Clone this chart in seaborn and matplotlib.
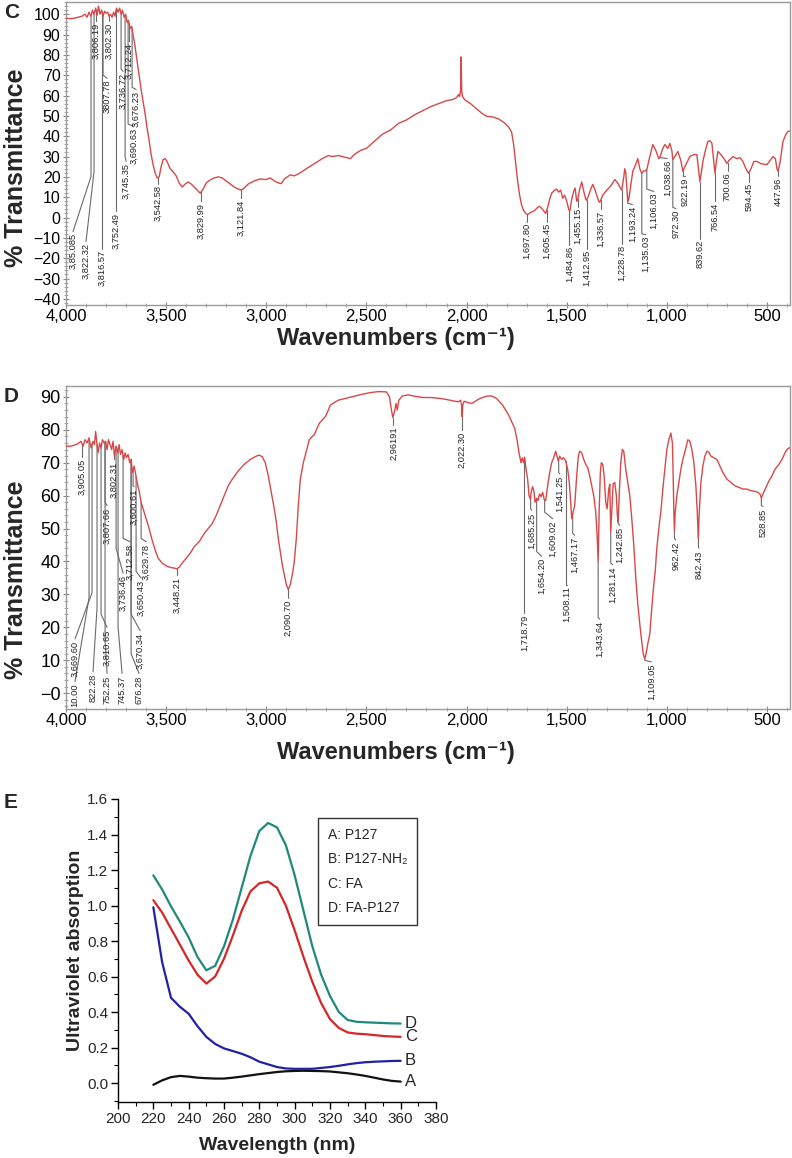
import matplotlib
matplotlib.use('Agg')
import matplotlib.pyplot as plt
from matplotlib import font_manager
from matplotlib.ticker import MultipleLocator
from matplotlib.lines import Line2D
import seaborn as sns
import numpy as np
import pandas as pd

# ---------------- panel C : FTIR spectrum ----------------
c_wavenumber = [4000, 3980, 3960, 3940, 3920, 3905, 3895, 3885, 3875, 3868, 3860, 3852, 3845, 3838, 3830,
                3822, 3815, 3808, 3800, 3792, 3785, 3778, 3770, 3762, 3755, 3748, 3740, 3732, 3725, 3718,
                3710, 3702, 3695, 3688, 3680, 3672, 3665, 3655, 3645, 3635, 3625, 3615, 3605, 3595, 3585,
                3575, 3565, 3555, 3545, 3535, 3525, 3515, 3505, 3495, 3480, 3465, 3450, 3435, 3420, 3405,
                3390, 3375, 3360, 3345, 3330, 3315, 3300, 3280, 3260, 3240, 3220, 3200, 3180, 3160, 3140,
                3125, 3110, 3090, 3060, 3030, 3000, 2980, 2960, 2940, 2925, 2910, 2880, 2860, 2835, 2800,
                2760, 2720, 2690, 2670, 2640, 2600, 2580, 2560, 2530, 2500, 2460, 2420, 2380, 2340, 2300,
                2260, 2220, 2180, 2140, 2100, 2070, 2050, 2040, 2035, 2030, 2027, 2024, 2020, 2010, 1980,
                1950, 1920, 1900, 1870, 1840, 1810, 1790, 1775, 1765, 1755, 1745, 1735, 1725, 1715, 1705,
                1695, 1680, 1660, 1645, 1635, 1620, 1605, 1595, 1585, 1575, 1560, 1550, 1540, 1530, 1520,
                1510, 1500, 1490, 1484, 1475, 1465, 1458, 1450, 1445, 1435, 1425, 1415, 1405, 1400, 1390,
                1380, 1370, 1360, 1350, 1340, 1335, 1320, 1300, 1280, 1260, 1245, 1235, 1225, 1215, 1210,
                1205, 1195, 1190, 1180, 1170, 1160, 1145, 1135, 1125, 1115, 1105, 1100, 1085, 1070, 1055,
                1040, 1035, 1020, 1010, 995, 985, 975, 970, 960, 945, 930, 920, 905, 885, 865,
                850, 840, 835, 828, 820, 805, 795, 785, 775, 765, 760, 752, 745, 730, 715,
                700, 690, 670, 650, 635, 620, 605, 592, 580, 565, 550, 530, 500, 485, 470,
                458, 450, 445, 435, 420, 405, 395, 385]
c_transmittance = [98, 97.8, 98, 98.5, 99, 100, 98.5, 101, 99, 102, 100, 103, 99.5, 104, 100,
                   102, 99, 101.5, 100.5, 101, 99, 100, 98.5, 101, 99, 103, 101, 103, 100, 102,
                   98.5, 100, 96, 97, 93, 94, 90, 84, 77, 70, 63, 57, 51, 44, 38,
                   31, 26, 22, 19.5, 20, 25, 28.5, 29, 27.5, 24, 22.5, 20.5, 17, 15, 16.5,
                   17.5, 16.5, 15, 13.5, 12, 14, 17, 18.5, 19.5, 20, 19.5, 18, 16.5, 15, 14,
                   13.5, 14.5, 16.5, 18, 19, 18.7, 19.5, 18, 17, 16.7, 19, 21, 20.5, 21.7, 24,
                   26.5, 29, 30.5, 30, 30.5, 29.5, 29, 31, 33, 34, 37.5, 41, 43, 46.3, 48,
                   50.5, 52.5, 54.5, 56, 57.5, 58, 59, 60.5, 59.5, 62, 79, 62, 59.5, 58, 56,
                   53.5, 51, 49.8, 49.5, 48.5, 46.5, 44.5, 42, 36, 27, 18, 11, 6, 3.5, 2,
                   1.5, 2.5, 3.5, 5, 5.5, 4, 2, 5, 9, 12, 13.5, 14, 12.5, 13.5, 9.5,
                   11, 8, 4, 3.3, 9, 13, 14.5, 8, 9, 14, 17.5, 13, 9, 8.5, 11,
                   14, 16.3, 14, 11, 8, 7.5, 11, 13.5, 15.5, 18.7, 17, 15, 13.5, 20, 24,
                   22, 8, 9, 16, 22.7, 25, 29, 24, 21.7, 23, 23, 23.6, 30, 35.9, 33,
                   29, 29.5, 34, 35.9, 34, 36.5, 33, 28.5, 30, 32.5, 28, 22.7, 26, 30, 31,
                   31, 22, 17.7, 22, 27.6, 34, 37.4, 37.8, 36.5, 27, 21.7, 28, 32.5, 31, 29,
                   26.6, 28, 30, 29, 29.5, 27.6, 24, 21.7, 24, 27.6, 27.6, 26.5, 26, 28, 30,
                   29, 24, 22.7, 27, 37.4, 41, 42.4, 42.5]
c_yticks = list(range(-40, 101, 10))
# (label, leader x, leader end y, text x, text top y)
c_peaks = [
    ('3,85.085', 3875, 20.2, 3965, -6.9), ('3,822.32', 3860, 22.7, 3900, -11.8),
    ('3,816.57', 3820, 22.7, 3820, -15.3), ('3,806.19', 3850, 96.6, 3850, 96.6),
    ('3,802.30', 3785, 96.6, 3785, 96.6), ('3807.78', 3815, 70, 3795, 68.5),
    ('3,752.49', 3750, 3.0, 3750, 3.0), ('3,745.35', 3705, 30, 3700, 27.6),
    ('3,736.72', 3725, 73, 3715, 71.9), ('3,712.24', 3685, 86.7, 3685, 86.7),
    ('3,690.63', 3690, 46, 3660, 44.8), ('3,676.23', 3670, 64, 3650, 63),
    ('3,542.58', 3540, 16.7, 3540, 16.7), ('3,829.99', 3325, 7.9, 3325, 7.9),
    ('3,121.84', 3125, 9.4, 3125, 9.4), ('1,697.80', 1700, -2, 1700, -2),
    ('1,605.45', 1600, -2, 1600, -2), ('1,484.86', 1488, -13.3, 1488, -13.3),
    ('1,455.15', 1445, 5.4, 1445, 5.4), ('1,412.95', 1400, -15.3, 1400, -15.3),
    ('1,336.57', 1330, 4, 1330, 4), ('1,228.78', 1225, -12.8, 1225, -12.8),
    ('1,193.24', 1195, 7, 1172, 6.4), ('1,135.03', 1125, -8, 1105, -8.4),
    ('1,106.03', 1100, 14, 1065, 12.8), ('1,038.66', 1035, 29.5, 998, 29),
    ('972.30', 970, 5, 955, 4.4), ('922.19', 920, 20.2, 910, 20.2),
    ('839.62', 835, -10.3, 835, -10.3), ('766.54', 760, 7.9, 760, 7.9),
    ('700.06', 697, 22.7, 697, 22.7), ('594.45', 590, 17.7, 590, 17.7),
    ('447.96', 445, 20.2, 445, 20.2),
]

# ---------------- panel D : FTIR spectrum ----------------
d_wavenumber = [4000, 3980, 3960, 3940, 3925, 3915, 3905, 3895, 3885, 3875, 3865, 3858, 3852, 3846, 3840,
                3832, 3825, 3818, 3810, 3802, 3795, 3788, 3780, 3772, 3765, 3758, 3750, 3742, 3735, 3728,
                3720, 3712, 3705, 3698, 3690, 3682, 3675, 3668, 3660, 3652, 3645, 3635, 3625, 3615, 3605,
                3595, 3585, 3570, 3555, 3540, 3520, 3500, 3480, 3460, 3448, 3435, 3420, 3400, 3380, 3360,
                3335, 3310, 3290, 3270, 3250, 3230, 3210, 3190, 3170, 3140, 3110, 3080, 3050, 3035, 3020,
                3005, 2990, 2975, 2960, 2950, 2940, 2930, 2920, 2910, 2900, 2890, 2880, 2870, 2860, 2850,
                2840, 2830, 2815, 2800, 2785, 2770, 2760, 2750, 2735, 2720, 2705, 2690, 2680, 2660, 2640,
                2600, 2560, 2520, 2480, 2440, 2400, 2385, 2375, 2368, 2360, 2352, 2346, 2338, 2320, 2290,
                2260, 2220, 2180, 2140, 2100, 2060, 2040, 2030, 2025, 2022, 2019, 2012, 1995, 1975, 1960,
                1940, 1920, 1900, 1880, 1865, 1850, 1835, 1820, 1805, 1790, 1775, 1760, 1748, 1738, 1728,
                1722, 1716, 1710, 1703, 1695, 1688, 1682, 1676, 1670, 1664, 1658, 1650, 1643, 1636, 1628,
                1620, 1612, 1605, 1595, 1585, 1575, 1565, 1555, 1548, 1542, 1535, 1525, 1515, 1505, 1495,
                1487, 1480, 1475, 1468, 1460, 1450, 1442, 1435, 1425, 1415, 1405, 1395, 1385, 1375, 1365,
                1355, 1348, 1343, 1338, 1332, 1327, 1320, 1313, 1305, 1298, 1290, 1285, 1280, 1275, 1268,
                1260, 1252, 1247, 1243, 1238, 1230, 1222, 1215, 1205, 1195, 1185, 1175, 1165, 1155, 1145,
                1135, 1125, 1118, 1110, 1102, 1095, 1085, 1075, 1065, 1058, 1050, 1040, 1030, 1020, 1010,
                1000, 990, 980, 972, 968, 965, 962, 958, 950, 940, 930, 920, 905, 895, 885,
                875, 865, 855, 848, 843, 838, 830, 820, 810, 800, 790, 780, 765, 750, 735,
                720, 700, 680, 660, 640, 620, 600, 580, 560, 545, 535, 528, 520, 505, 490,
                475, 460, 440, 425, 410, 400, 390, 385]
d_transmittance = [75, 75, 75.3, 75.8, 76.5, 75, 77, 76, 77.5, 74.5, 76.5, 75.5, 79.5, 76, 73,
                   76, 74.5, 77, 76, 76.5, 74, 77, 75.5, 74, 76.5, 72, 75, 73, 75.5, 72.5,
                   74, 71, 73, 71.5, 72.5, 70, 71, 67, 69, 66.5, 64, 61.5, 58, 56, 54,
                   52, 50, 46.5, 43.5, 41, 39.5, 38.7, 38.2, 38, 37.8, 38.2, 39.5, 41, 42.5, 44.5,
                   46, 48.5, 50, 51.5, 54, 57, 60, 63, 65, 67.5, 69.5, 71, 72, 72.3, 71.8,
                   70, 66, 61, 56, 52, 47, 43, 39, 36, 33, 31.5, 33, 36, 40, 47,
                   57, 65, 70, 73.5, 77, 78, 78.5, 80, 82, 83, 84, 86, 87.5, 88.3, 89,
                   89.6, 90.2, 90.8, 91.3, 91.6, 91.5, 90, 86, 83.7, 85.5, 88, 86, 89, 90.3, 90.6,
                   90.2, 89.8, 89.8, 89.6, 89.2, 88.7, 88.5, 89, 87.5, 84, 87.5, 88.7, 88.3, 88, 88.5,
                   89.3, 89.8, 90.2, 90.3, 90, 89.5, 88.5, 87.5, 86, 84.5, 82.5, 80.5, 77, 73, 70,
                   71.5, 70, 71.7, 68, 65, 60, 59, 61.5, 62.7, 61.5, 58, 59.2, 58.5, 60.5, 59.7,
                   61, 58.8, 58.5, 63, 67, 70, 71.5, 73.5, 72, 70.5, 72, 71, 71.5, 70.5, 68,
                   64, 58, 53, 55, 57, 66, 72, 73.5, 73, 71, 69.5, 68.5, 66, 63, 60,
                   55, 48, 40, 55, 67, 70, 69.5, 66, 58, 56, 62, 63.5, 49, 55, 63.6,
                   64, 60, 54, 52, 60, 70, 74, 73.5, 68, 64, 60, 53, 45, 35, 27,
                   21, 15.5, 12, 10.4, 12.5, 15, 18, 26, 33, 37, 44, 50, 55, 62, 68,
                   74, 77, 79, 76, 65, 55, 49.5, 55, 60, 64, 68, 71, 74.5, 77, 76.5,
                   74, 70, 63, 55, 47, 55, 64, 69, 72, 73.5, 73.2, 72, 71.5, 71, 69,
                   67, 65, 64, 63, 62.5, 62, 62, 61.5, 61.3, 61, 60.5, 59.3, 60.5, 62.5, 64.5,
                   66, 68, 69.5, 71, 73, 74, 74.5, 74.5]
d_yticks = list(range(0, 91, 10))
d_ytick_labels = ['\u22120', '10', '20', '30', '40', '50', '60', '70', '80', '90']
d_peaks = [
    ('3,905.05', 3920, 71.7, 3920, 71.7), ('3,802.31', 3760, 71, 3760, 71),
    ('3,807.66', 3805, 58, 3795, 57), ('3,600.61', 3665, 63, 3660, 62.7),
    ('3,712.58', 3715, 47, 3680, 46), ('3,629.78', 3625, 47, 3600, 46),
    ('3,736.46', 3750, 44, 3715, 36.5), ('3,650.43', 3650, 37, 3625, 35),
    ('3,448.21', 3445, 36, 3445, 36), ('3,810.65', 3825, 24, 3795, 20),
    ('3,670.34', 3675, 24, 3630, 19), ('3,669.60', 3870, 30.5, 3955, 16.5),
    ('10.00', 3885, 29, 3955, 3.5), ('822.28', 3845, 26, 3865, 6.5),
    ('752.25', 3805, 16, 3795, 6), ('745.37', 3740, 20, 3720, 6),
    ('676.28', 3675, 12, 3635, 6), ('2,090.70', 2890, 29, 2890, 29),
    ('2,96191', 2368, 81.6, 2365, 81.6), ('2,022.30', 2022, 80, 2022, 80),
    ('1,718.79', 1712, 24.5, 1712, 24.5), ('1,685.25', 1680, 56, 1675, 55.5),
    ('1,654.20', 1650, 43, 1625, 41.6), ('1,609.02', 1610, 55, 1570, 53),
    ('1,541.25', 1540, 67, 1535, 66.6), ('1,508.11', 1505, 33, 1500, 33),
    ('1,467.17', 1470, 48.5, 1460, 48), ('1,343.64', 1343, 23, 1335, 22.5),
    ('1,281.14', 1280, 39.5, 1270, 39), ('1,242.85', 1243, 51.5, 1235, 51),
    ('1,109.05', 1110, 10, 1078, 9.5), ('962.42', 962, 47, 955, 46.5),
    ('842.43', 842, 44.5, 840, 44), ('528.85', 528, 57, 520, 56.7),
]

wn_ticks = [4000, 3500, 3000, 2500, 2000, 1500, 1000, 500]
wn_tick_labels = ['4,000', '3,500', '3,000', '2,500', '2,000', '1,500', '1,000', '500']

# ---------------- panel E : UV absorption ----------------
e_wavelength = [220, 225, 230, 235, 240, 245, 250, 255, 260, 265, 270, 275, 280, 285, 290,
                295, 300, 305, 310, 315, 320, 325, 330, 335, 340, 345, 350, 355, 360]
e_p127 = [-0.01, 0.015, 0.033, 0.04, 0.036, 0.03, 0.027, 0.025, 0.025, 0.03, 0.036, 0.043, 0.05, 0.056, 0.062,
          0.066, 0.068, 0.069, 0.068, 0.067, 0.065, 0.06, 0.055, 0.048, 0.04, 0.03, 0.02, 0.012, 0.008]
e_p127_nh2 = [0.99, 0.68, 0.48, 0.43, 0.39, 0.32, 0.26, 0.22, 0.195, 0.18, 0.165, 0.145, 0.12, 0.105, 0.09,
              0.082, 0.08, 0.08, 0.08, 0.085, 0.09, 0.097, 0.105, 0.112, 0.117, 0.12, 0.122, 0.124, 0.125]
e_fa = [1.03, 0.96, 0.87, 0.78, 0.69, 0.61, 0.56, 0.6, 0.7, 0.83, 0.97, 1.08, 1.125, 1.135, 1.1,
        1.0, 0.86, 0.71, 0.57, 0.45, 0.36, 0.31, 0.285, 0.278, 0.275, 0.27, 0.265, 0.262, 0.26]
e_fa_p127 = [1.17, 1.09, 0.995, 0.91, 0.82, 0.71, 0.635, 0.66, 0.77, 0.92, 1.1, 1.28, 1.42, 1.465, 1.44,
             1.34, 1.17, 0.97, 0.77, 0.61, 0.49, 0.4, 0.355, 0.345, 0.342, 0.34, 0.338, 0.336, 0.335]
e_series = ['A', 'B', 'C', 'D']
e_legend_labels = ['A: P127', 'B: P127-NH\u2082', 'C: FA', 'D: FA-P127']
e_colors = ['#111111', '#2121a6', '#d42828', '#1d8a7a']

# ---------------- style ----------------
sns.set_theme(style='white')
plt.rcParams['font.family'] = ['Liberation Sans', 'DejaVu Sans']
installed = {f.name for f in font_manager.fontManager.ttflist}
narrow = 'Liberation Sans Narrow' if 'Liberation Sans Narrow' in installed else 'Liberation Sans'
narrow_family = [narrow, 'DejaVu Sans']

W, H = 792, 1158
fig = plt.figure(figsize=(W / 100, H / 100), dpi=100)


def px_axes(left, top, right, bottom):
    return fig.add_axes([left / W, 1 - bottom / H, (right - left) / W, (bottom - top) / H])


def draw_spectrum(ax, wn, tr, peaks, ylim, yticks, ytick_labels, ysize):
    sns.lineplot(x=wn, y=tr, ax=ax, color='#d84848', lw=1.0, estimator=None, zorder=3)
    wn_arr = np.array(wn)[::-1]
    tr_arr = np.array(tr)[::-1]
    for text, lx, ly, tx, ty in peaks:
        cy = np.interp(lx, wn_arr, tr_arr)
        ax.plot([lx, lx, tx], [cy, ly, ty], color='#6a6a6a', lw=0.8, zorder=2)
        ax.text(tx, ty - 0.6, text, rotation=90, ha='center', va='top',
                fontsize=6.7, color='#222222', zorder=4)
    ax.set_xlim(4000, 385)
    ax.set_ylim(*ylim)
    ax.set_xticks(wn_ticks)
    ax.set_xticklabels(wn_tick_labels, fontsize=12)
    ax.set_yticks(yticks)
    ax.set_yticklabels(ytick_labels, fontsize=ysize)
    ax.xaxis.set_minor_locator(MultipleLocator(100))
    ax.yaxis.set_minor_locator(MultipleLocator(2))
    ax.tick_params(which='major', direction='inout', length=4, width=0.8, color='#888888',
                   bottom=True, left=True, pad=2, labelcolor='black')
    ax.tick_params(axis='x', which='major', pad=1)
    ax.tick_params(which='minor', direction='inout', length=2.5, width=0.6, color='#999999',
                   bottom=True, left=True)
    for sp in ax.spines.values():
        sp.set_color('#9a9a9a')
        sp.set_linewidth(1.0)
    ax.set_xlabel('')
    ax.set_ylabel('')


# panel C
ax_c = px_axes(66, 2, 790, 305)
c_labels = [str(v).replace('-', '\u2212') for v in c_yticks]
draw_spectrum(ax_c, c_wavenumber, c_transmittance, c_peaks, (-43, 106), c_yticks, c_labels, 11.5)
fig.text(4 / W, 1 - 12 / H, 'C', fontsize=15, fontweight='bold', ha='left', va='center')
fig.text(16 / W, 1 - 168 / H, '% Transmittance', rotation=90, fontsize=18, fontweight='bold',
         ha='center', va='center')
fig.text(396 / W, 1 - 338 / H, 'Wavenumbers (cm\u207b\u00b9)', fontsize=17, fontweight='bold',
         ha='center', va='center')

# panel D
ax_d = px_axes(66, 386, 790, 709)
draw_spectrum(ax_d, d_wavenumber, d_transmittance, d_peaks, (-4.8, 93.3), d_yticks, d_ytick_labels, 13)
fig.text(4 / W, 1 - 396 / H, 'D', fontsize=15, fontweight='bold', ha='left', va='center')
fig.text(16 / W, 1 - 580 / H, '% Transmittance', rotation=90, fontsize=18, fontweight='bold',
         ha='center', va='center')
fig.text(396 / W, 1 - 753 / H, 'Wavenumbers (cm\u207b\u00b9)', fontsize=17, fontweight='bold',
         ha='center', va='center')

# panel E
ax_e = px_axes(118, 799, 436, 1102)
e_df = pd.DataFrame({
    'wavelength': e_wavelength * 4,
    'absorption': e_p127 + e_p127_nh2 + e_fa + e_fa_p127,
    'sample': [s for s in e_series for _ in e_wavelength],
})
sns.lineplot(data=e_df, x='wavelength', y='absorption', hue='sample', hue_order=e_series,
             palette=e_colors, lw=1.6, legend=False, ax=ax_e)
end_values = e_df.groupby('sample')['absorption'].last()
for s in e_series:
    ax_e.text(362.5, end_values[s], s, fontsize=12, family=narrow_family, ha='left', va='center')
ax_e.set_xlim(200, 380)
ax_e.set_ylim(-0.107, 1.6)
ax_e.set_xticks(range(200, 381, 20))
ax_e.set_yticks(np.arange(0, 1.61, 0.2))
ax_e.set_yticklabels([f'{v:.1f}' for v in np.arange(0, 1.61, 0.2)])
ax_e.xaxis.set_minor_locator(MultipleLocator(10))
ax_e.yaxis.set_minor_locator(MultipleLocator(0.1))
ax_e.tick_params(which='major', direction='out', length=5, width=1, color='black',
                 bottom=True, left=True, labelsize=11, pad=2)
ax_e.tick_params(which='minor', direction='out', length=3, width=0.8, color='black',
                 bottom=True, left=True)
for lab in ax_e.get_xticklabels() + ax_e.get_yticklabels():
    lab.set_family(narrow_family)
ax_e.spines['top'].set_visible(False)
ax_e.spines['right'].set_visible(False)
for sp in ('left', 'bottom'):
    ax_e.spines[sp].set_color('black')
    ax_e.spines[sp].set_linewidth(1.0)
ax_e.set_xlabel('Wavelength (nm)', fontsize=14, fontweight='bold', family=narrow_family)
ax_e.xaxis.set_label_coords(0.5, -(1137 - 1102) / 303)
ax_e.set_ylabel('Ultraviolet absorption', fontsize=14, fontweight='bold')
ax_e.yaxis.set_label_coords((84 - 118) / 318, 0.5)
handles = [Line2D([], [], lw=0) for _ in e_series]
leg = ax_e.legend(handles, e_legend_labels, loc='upper right', bbox_to_anchor=(0.962, 0.96),
                  handlelength=0, handletextpad=0, fancybox=False, framealpha=1,
                  edgecolor='#333333', prop={'family': narrow_family, 'size': 10},
                  labelspacing=0.75, borderpad=0.7)
leg.get_frame().set_linewidth(1.0)
fig.text(4 / W, 1 - 802 / H, 'E', fontsize=15, fontweight='bold', ha='left', va='center')

fig.savefig('out.png', dpi=100)
